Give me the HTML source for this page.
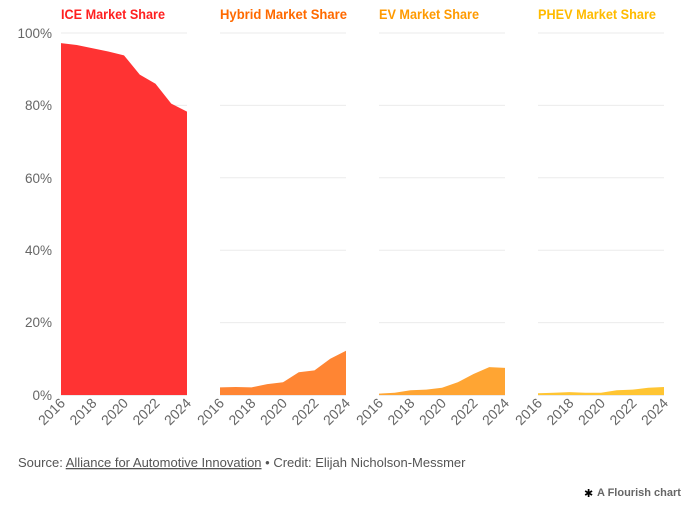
<!DOCTYPE html>
<html><head><meta charset="utf-8"><style>
body{margin:0;background:#fff;width:694px;height:505px;overflow:hidden;font-family:"Liberation Sans",sans-serif}
</style></head><body>
<svg width="694" height="505" viewBox="0 0 694 505" xmlns="http://www.w3.org/2000/svg" font-family="Liberation Sans, sans-serif">
<g stroke="#ebebeb" stroke-width="1">
<line x1="61" x2="187" y1="33" y2="33"/><line x1="61" x2="187" y1="105.4" y2="105.4"/><line x1="61" x2="187" y1="177.8" y2="177.8"/><line x1="61" x2="187" y1="250.2" y2="250.2"/><line x1="61" x2="187" y1="322.6" y2="322.6"/>
<line x1="220" x2="346" y1="33" y2="33"/><line x1="220" x2="346" y1="105.4" y2="105.4"/><line x1="220" x2="346" y1="177.8" y2="177.8"/><line x1="220" x2="346" y1="250.2" y2="250.2"/><line x1="220" x2="346" y1="322.6" y2="322.6"/>
<line x1="379" x2="505" y1="33" y2="33"/><line x1="379" x2="505" y1="105.4" y2="105.4"/><line x1="379" x2="505" y1="177.8" y2="177.8"/><line x1="379" x2="505" y1="250.2" y2="250.2"/><line x1="379" x2="505" y1="322.6" y2="322.6"/>
<line x1="538" x2="664" y1="33" y2="33"/><line x1="538" x2="664" y1="105.4" y2="105.4"/><line x1="538" x2="664" y1="177.8" y2="177.8"/><line x1="538" x2="664" y1="250.2" y2="250.2"/><line x1="538" x2="664" y1="322.6" y2="322.6"/>
<line x1="61" x2="187" y1="395.5" y2="395.5"/><line x1="220" x2="346" y1="395.5" y2="395.5"/><line x1="379" x2="505" y1="395.5" y2="395.5"/><line x1="538" x2="664" y1="395.5" y2="395.5"/>
</g>
<polygon fill="#ff3333" points="61,395 61,43.1 76.75,45 92.5,48.2 108.25,51.5 124,55.4 139.75,74.6 155.5,83.7 171.25,103.6 187,111.6 187,395"/>
<polygon fill="#ff8533" points="220,395 220,387.4 235.75,387 251.5,387.4 267.25,384.1 283,382.3 298.75,372.2 314.5,370.4 330.25,358.8 346,350.8 346,395"/>
<polygon fill="#ffa533" points="379,395 379,393.6 394.75,392.8 410.5,390.3 426.25,389.6 442,387.8 457.75,382.3 473.5,374 489.25,367.1 505,367.9 505,395"/>
<polygon fill="#ffc533" points="538,395 538,393.2 553.75,392.8 569.5,392.1 585.25,392.8 601,392.8 616.75,390.3 632.5,389.6 648.25,387.8 664,387 664,395"/>
<g font-size="13.5" fill="#666" text-anchor="end">
<text x="52" y="38">100%</text><text x="52" y="110">80%</text><text x="52" y="183">60%</text><text x="52" y="255">40%</text><text x="52" y="327">20%</text><text x="52" y="400">0%</text>
</g>
<g font-size="14" font-weight="bold">
<text x="61" y="19" fill="#ff2020" textLength="104" lengthAdjust="spacingAndGlyphs">ICE Market Share</text>
<text x="220" y="19" fill="#ff6a00" textLength="127" lengthAdjust="spacingAndGlyphs">Hybrid Market Share</text>
<text x="379" y="19" fill="#ff9a00" textLength="100" lengthAdjust="spacingAndGlyphs">EV Market Share</text>
<text x="538" y="19" fill="#ffbb00" textLength="118" lengthAdjust="spacingAndGlyphs">PHEV Market Share</text>
</g>
<g font-size="14" fill="#666" text-anchor="end">
<text transform="translate(66,404) rotate(-45)">2016</text><text transform="translate(97.5,404) rotate(-45)">2018</text><text transform="translate(129,404) rotate(-45)">2020</text><text transform="translate(160.5,404) rotate(-45)">2022</text><text transform="translate(192,404) rotate(-45)">2024</text>
<text transform="translate(225,404) rotate(-45)">2016</text><text transform="translate(256.5,404) rotate(-45)">2018</text><text transform="translate(288,404) rotate(-45)">2020</text><text transform="translate(319.5,404) rotate(-45)">2022</text><text transform="translate(351,404) rotate(-45)">2024</text>
<text transform="translate(384,404) rotate(-45)">2016</text><text transform="translate(415.5,404) rotate(-45)">2018</text><text transform="translate(447,404) rotate(-45)">2020</text><text transform="translate(478.5,404) rotate(-45)">2022</text><text transform="translate(510,404) rotate(-45)">2024</text>
<text transform="translate(543,404) rotate(-45)">2016</text><text transform="translate(574.5,404) rotate(-45)">2018</text><text transform="translate(606,404) rotate(-45)">2020</text><text transform="translate(637.5,404) rotate(-45)">2022</text><text transform="translate(669,404) rotate(-45)">2024</text>
</g>
<text x="18" y="467" font-size="13" fill="#555">Source: <tspan text-decoration="underline">Alliance for Automotive Innovation</tspan> • Credit: Elijah Nicholson-Messmer</text>
<text x="584" y="497" font-size="11" fill="#000">✱</text>
<text x="597" y="496" font-size="11" font-weight="bold" fill="#666">A Flourish chart</text>
</svg>
</body></html>
